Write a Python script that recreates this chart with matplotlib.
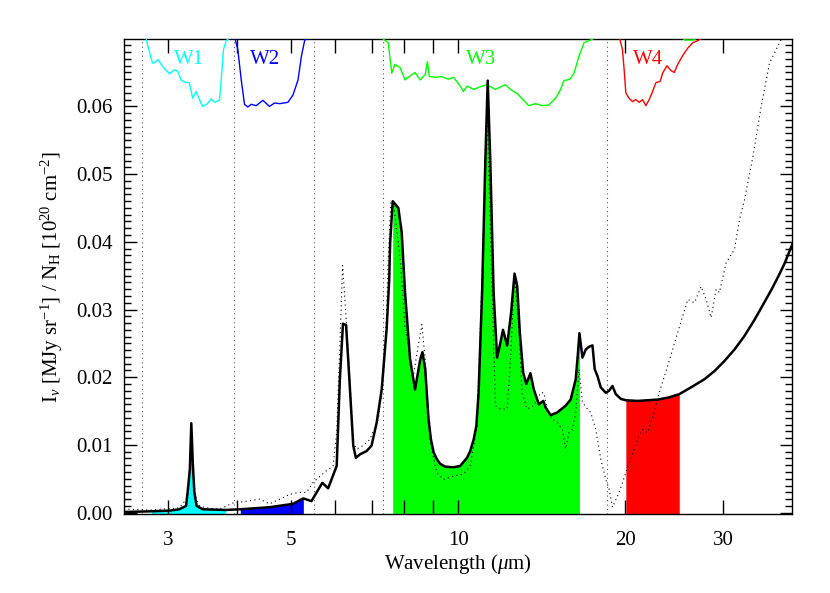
import numpy as np
import matplotlib
matplotlib.use("Agg")
import matplotlib.pyplot as plt
from matplotlib.ticker import FixedLocator, NullLocator, MultipleLocator, FuncFormatter

# model spectrum (thick black line)
model_wave = [2.50, 2.80, 3.02, 3.145, 3.234, 3.255, 3.285, 3.305, 3.326, 3.347, 3.379, 3.465,
              3.81, 4.05, 4.57, 5.04, 5.26, 5.44, 5.69, 5.83, 6.04, 6.12, 6.20, 6.28, 6.34,
              6.47, 6.54, 6.65, 6.84, 6.98, 7.13, 7.28, 7.43, 7.51, 7.54, 7.62, 7.80, 7.91,
              8.02, 8.19, 8.36, 8.54, 8.62, 8.72, 8.84, 8.93, 9.03, 9.15, 9.28, 9.47, 9.81,
              10.08, 10.37, 10.51, 10.66, 10.78, 10.88,
              11.04, 11.19, 11.30, 11.42, 11.58, 11.75, 11.91, 12.04, 12.25, 12.45, 12.63,
              12.77, 12.91, 13.09, 13.26, 13.49, 13.68, 13.97, 14.23, 14.37, 14.67, 15.08,
              15.61, 15.94, 16.28, 16.43, 16.53, 16.74, 16.97, 17.20, 17.45, 17.61, 17.81,
              18.06, 18.44, 18.69, 18.96, 19.22, 19.63, 20.04, 21.04, 22.87, 23.9, 25.01,
              26.26, 27.76, 28.94, 30.17, 31.45, 32.78, 34.18, 35.62, 36.64, 37.67, 38.71, 40.0]
model_flux = [0.0001, 0.0002, 0.0003, 0.0005, 0.0010, 0.0030, 0.0064, 0.0132, 0.0072, 0.0030,
              0.0010, 0.0005, 0.0004, 0.0005, 0.0008, 0.0013, 0.0021, 0.0017, 0.0044, 0.0036,
              0.0069, 0.0197, 0.0279, 0.0277, 0.0222, 0.0099, 0.0081, 0.0086, 0.0091, 0.0099,
              0.0133, 0.0182, 0.0271, 0.0344, 0.0399, 0.0460, 0.0450, 0.0414, 0.0325, 0.0226,
              0.0182, 0.0226, 0.0237, 0.0212, 0.0138, 0.0108, 0.0089, 0.0079, 0.0072, 0.0068,
              0.0067, 0.0069, 0.0081, 0.0091, 0.0108, 0.0128, 0.0177,
              0.0325, 0.0521, 0.0638, 0.0521, 0.0325, 0.0229, 0.0251, 0.0270, 0.0247,
              0.0295, 0.0353, 0.0335, 0.0266, 0.0207, 0.0190, 0.0206, 0.0182, 0.0160, 0.0165,
              0.0155, 0.0144, 0.0148, 0.0158, 0.0167, 0.0197, 0.0236, 0.0265, 0.0229, 0.0241,
              0.0245, 0.0247, 0.0212, 0.0202, 0.0185, 0.0177, 0.0180, 0.0187, 0.0175, 0.0168,
              0.0166, 0.0165, 0.0167, 0.0170, 0.0175,
              0.0185, 0.0197, 0.0209, 0.0224, 0.0241, 0.0261, 0.0285, 0.0311, 0.0329, 0.0348,
              0.0368, 0.0397]

# observed spectrum (dotted line)
obs_wave = [2.50, 2.55, 2.795, 3.145, 3.238, 3.285, 3.305, 3.326, 3.361, 3.418, 3.514, 3.715,
            3.92, 4.09, 4.39, 4.57, 4.77, 4.97, 5.18, 5.33, 5.48, 5.79, 5.95, 6.04, 6.12,
            6.19, 6.25, 6.38, 6.47, 6.56, 6.74, 6.93, 7.18, 7.33, 7.43, 7.48, 7.56, 7.64,
            7.86, 8.02, 8.30, 8.45, 8.60, 8.72, 8.90, 9.15, 9.41, 9.81, 10.22, 10.51, 10.81,
            11.11, 11.27, 11.42, 11.67, 11.91, 12.25, 12.42, 12.63, 12.85, 13.03, 13.31,
            13.68, 14.07, 14.26, 14.47, 14.77, 15.08, 15.40, 15.61, 15.83, 16.05, 16.28,
            16.50, 16.74, 17.09, 17.32, 17.69, 18.06, 18.44, 18.69, 18.96, 19.49, 20.04,
            21.04, 21.48, 21.93, 22.54, 23.01, 23.84, 24.85, 25.91, 26.63, 27.38, 27.96,
            28.54, 29.14, 29.54, 30.38, 31.45, 32.11, 32.78, 33.95, 35.13, 36.37, 37.92, 38.5]
obs_flux = [0.0004, 0.0005, 0.0004, 0.0007, 0.0020, 0.0064, 0.0123, 0.0064, 0.0024, 0.0010,
            0.0007, 0.0005, 0.0014, 0.0016, 0.0020, 0.0013, 0.0020, 0.0027, 0.0030, 0.0030,
            0.0045, 0.0062, 0.0069, 0.0119, 0.0246, 0.0365, 0.0315, 0.0197, 0.0104, 0.0094,
            0.0099, 0.0108, 0.0138, 0.0197, 0.0295, 0.0374, 0.0460, 0.0458, 0.0374, 0.0276,
            0.0202, 0.0241, 0.0278, 0.0226, 0.0104, 0.0059, 0.0049, 0.0054, 0.0057, 0.0069,
            0.0128, 0.0423, 0.0595, 0.0423, 0.0158, 0.0153, 0.0153, 0.0226, 0.0352, 0.0276,
            0.0177, 0.0153, 0.0158, 0.0177, 0.0177, 0.0153, 0.0138, 0.0133, 0.0123, 0.0094,
            0.0118, 0.0123, 0.0148, 0.0212, 0.0163, 0.0153, 0.0148, 0.0123, 0.0079, 0.0049,
            0.0035, 0.0008, 0.0030, 0.0059, 0.0108, 0.0123, 0.0118, 0.0148, 0.0177, 0.0217,
            0.0266, 0.0315, 0.0310, 0.0334, 0.0315, 0.0288, 0.0330, 0.0325, 0.0369, 0.0389,
            0.0433, 0.0462, 0.0526, 0.0600, 0.0664, 0.0694, 0.0706]

# filter response curves (drawn in the top strip)
w1_wave = [2.61, 2.74, 2.756, 2.814, 2.834, 2.881, 2.934, 3.02, 3.08, 3.123, 3.167, 3.234,
           3.278, 3.324, 3.371, 3.418, 3.465, 3.524, 3.589, 3.638, 3.715, 3.741, 3.777, 3.819, 3.899]
w1_resp = [0.0703, 0.0701, 0.0691, 0.0664, 0.0664, 0.0669, 0.0659, 0.0648, 0.0654, 0.0652,
           0.0639, 0.0635, 0.0635, 0.0612, 0.0622, 0.0610, 0.0600, 0.0603, 0.0611, 0.0606,
           0.0609, 0.0639, 0.0684, 0.0697, 0.0703]
w2_wave = [3.954, 4.008, 4.066, 4.121, 4.178, 4.237, 4.327, 4.447, 4.57, 4.67, 4.77, 4.935,
           5.04, 5.145, 5.218, 5.291, 5.44]
w2_resp = [0.0703, 0.0684, 0.0639, 0.0603, 0.0599, 0.0603, 0.0601, 0.0609, 0.0600, 0.0605,
           0.0604, 0.0606, 0.0617, 0.0639, 0.0674, 0.0698, 0.0703]
w3_wave = [7.23, 7.48, 7.59, 7.69, 7.86, 8.02, 8.19, 8.36, 8.54, 8.72, 8.80, 8.87, 9.09, 9.34,
           9.60, 9.81, 10.08, 10.22, 10.37, 10.66, 10.96, 11.27, 11.67, 12.16, 12.42, 12.77,
           13.12, 13.40, 13.78, 14.17, 14.56, 14.97, 15.29, 15.50, 15.90, 16.16, 16.50,
           16.85, 17.32, 17.81]
w3_resp = [0.0703, 0.0694, 0.0649, 0.0662, 0.0657, 0.0639, 0.0645, 0.0650, 0.0639, 0.0647,
           0.0666, 0.0644, 0.0643, 0.0644, 0.0640, 0.0643, 0.0630, 0.0622, 0.0630, 0.0625,
           0.0629, 0.0632, 0.0625, 0.0632, 0.0625, 0.0619, 0.0609, 0.0601, 0.0604, 0.0601,
           0.0602, 0.0612, 0.0625, 0.0638, 0.0640, 0.0649, 0.0674, 0.0694, 0.0698, 0.0703]
w3_leak_wave = [25.2, 25.6, 26.6, 27.0]
w3_leak_resp = [0.0703, 0.0698, 0.0698, 0.0703]
w4_wave = [19.49, 19.76, 19.90, 20.04, 20.31, 20.60, 20.88, 21.18, 21.48, 21.78, 22.08, 22.39,
           22.70, 23.11, 23.34, 23.76, 24.16, 24.49, 24.85, 25.37, 25.91, 26.45, 27.01, 27.76]
w4_resp = [0.0703, 0.0684, 0.0654, 0.0620, 0.0612, 0.0607, 0.0610, 0.0606, 0.0610, 0.0601,
           0.0610, 0.0622, 0.0635, 0.0637, 0.0649, 0.0660, 0.0653, 0.0650, 0.0662, 0.0675,
           0.0686, 0.0694, 0.0697, 0.0703]

band_names = ["W1", "W2", "W3", "W4"]
band_colors = ["#00ffff", "#0000ff", "#00ff00", "#ff0000"]
band_lo = [2.80, 4.05, 7.60, 20.0]
band_hi = [3.81, 5.26, 16.53, 25.01]
label_wave = [3.28, 4.48, 11.0, 22.0]
label_y = 0.0669

edge_lines = [2.69, 3.94, 5.49, 7.31, 18.5]

x_ticks = [3, 4, 5, 6, 7, 8, 9, 10, 20, 30]
x_labels = {3: "3", 5: "5", 10: "10", 20: "20", 30: "30"}

plt.rcParams["font.family"] = ["Liberation Serif", "DejaVu Serif"]
plt.rcParams["mathtext.fontset"] = "custom"
plt.rcParams["mathtext.rm"] = "Liberation Serif"
plt.rcParams["mathtext.it"] = "Liberation Serif:italic"

fig = plt.figure(figsize=(8.3, 5.93), dpi=100)
ax = fig.add_axes([0.1494, 0.1332, 0.8054, 0.8005])

ymin, ymax = -0.0002, 0.0699
lam = np.array(model_wave)
flux = np.array(model_flux)

for lo, hi, col in zip(band_lo, band_hi, band_colors):
    m = (lam >= lo) & (lam <= hi)
    ax.fill_between(lam[m], ymin, flux[m], color=col, lw=0, zorder=1)

for xv in edge_lines:
    ax.axvline(xv, color="#555555", lw=0.8, ls=(0, (1, 3)), zorder=2)

ax.plot(obs_wave, obs_flux, color="k", lw=0.8, ls=(0, (1, 3)), zorder=3)
ax.plot(model_wave, model_flux, color="k", lw=1.8, zorder=4)

ax.plot(w1_wave, w1_resp, color=band_colors[0], lw=1.0, zorder=3)
ax.plot(w2_wave, w2_resp, color=band_colors[1], lw=1.0, zorder=3)
ax.plot(w3_wave, w3_resp, color=band_colors[2], lw=1.0, zorder=3)
ax.plot(w3_leak_wave, w3_leak_resp, color=band_colors[2], lw=1.0, zorder=3)
ax.plot(w4_wave, w4_resp, color=band_colors[3], lw=1.0, zorder=3)

for name, xw, col in zip(band_names, label_wave, band_colors):
    ax.text(xw, label_y, name, color=col, fontsize=15, ha="center", va="center")

ax.set_xscale("log")
ax.set_xlim(2.5, 40)
ax.set_ylim(ymin, ymax)

ax.xaxis.set_major_locator(FixedLocator(x_ticks))
ax.xaxis.set_minor_locator(NullLocator())
ax.xaxis.set_major_formatter(FuncFormatter(lambda v, p: x_labels.get(int(round(v)), "")))
ax.yaxis.set_major_locator(MultipleLocator(0.01))
ax.yaxis.set_minor_locator(MultipleLocator(0.001))
ax.yaxis.set_major_formatter(FuncFormatter(lambda v, p: "%.2f" % v))

ax.tick_params(axis="both", which="both", direction="in", top=True, right=True, width=1.0)
ax.tick_params(axis="x", which="major", length=10, pad=12, labelsize=15)
ax.tick_params(axis="y", which="major", length=9, pad=8, labelsize=15)
ax.tick_params(axis="y", which="minor", length=5)
for s in ax.spines.values():
    s.set_linewidth(1.0)

ax.set_xlabel(r"Wavelength ($\mu$m)", fontsize=15, labelpad=2)
ax.set_ylabel(r"I$_\nu$ [MJy sr$^{-1}$] / N$_\mathrm{H}$ [10$^{20}$ cm$^{-2}$]", fontsize=15, labelpad=8)

fig.savefig("out.png", dpi=100)
